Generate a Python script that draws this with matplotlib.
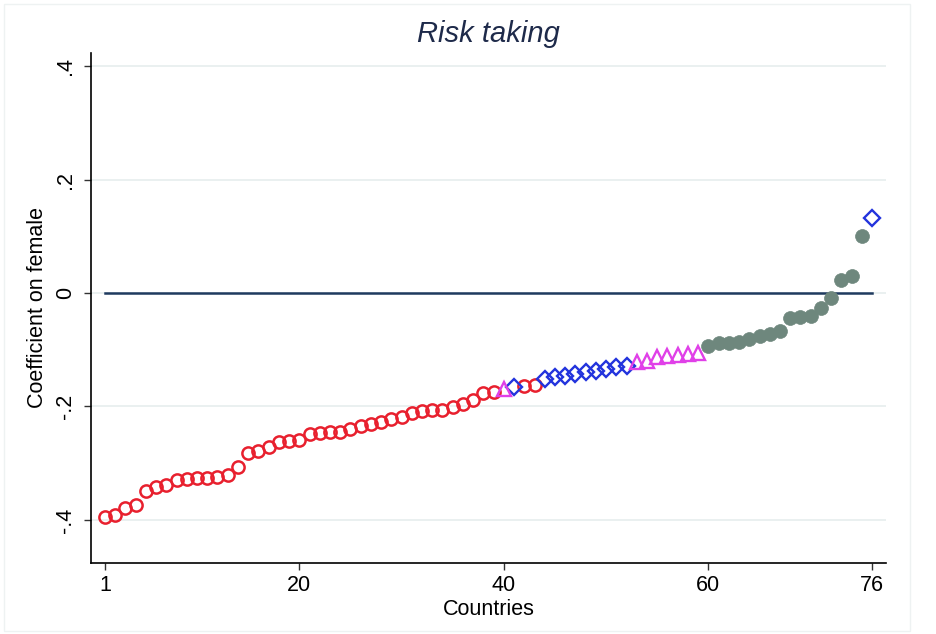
import matplotlib
matplotlib.use("Agg")
import matplotlib.pyplot as plt
import numpy as np

# coefficient on female by country (sorted), 76 countries
coef = [
    -0.395, -0.391, -0.379, -0.374, -0.349, -0.342, -0.338, -0.330, -0.328, -0.326,
    -0.326, -0.324, -0.321, -0.307, -0.282, -0.278, -0.271, -0.263, -0.261, -0.259,
    -0.248, -0.247, -0.245, -0.245, -0.240, -0.234, -0.231, -0.227, -0.222, -0.218,
    -0.211, -0.208, -0.206, -0.206, -0.201, -0.196, -0.189, -0.176, -0.174, -0.169,
    -0.166, -0.164, -0.163, -0.152, -0.148, -0.146, -0.143, -0.139, -0.137, -0.134,
    -0.130, -0.129, -0.122, -0.120, -0.113, -0.111, -0.109, -0.108, -0.106, -0.093,
    -0.088, -0.088, -0.086, -0.081, -0.076, -0.072, -0.067, -0.044, -0.042, -0.041,
    -0.026, -0.009, 0.023, 0.030, 0.100, 0.132,
]
# marker group of each country
group = (["a"] * 39 + ["c"] + ["b"] + ["a"] * 2 + ["b"] * 9 + ["c"] * 7
         + ["d"] * 16 + ["b"])

xticks = [1, 20, 40, 60, 76]
yticks = [-0.4, -0.2, 0, 0.2, 0.4]
ytick_labels = ["-.4", "-.2", "0", ".2", ".4"]

styles = {
    "a": dict(marker="o", ms=8.8, mfc="none", mec="#E8202E", mew=1.8),
    "b": dict(marker="D", ms=8.2, mfc="none", mec="#2233DD", mew=1.7),
    "c": dict(marker="^", ms=9.5, mfc="none", mec="#E040E8", mew=1.7),
    "d": dict(marker="o", ms=10, mfc="#6E877D", mec="#6E877D", mew=0.5),
}

plt.rcParams["font.family"] = ["Liberation Sans", "DejaVu Sans"]

fig = plt.figure(figsize=(9.37, 6.34), dpi=100)
ax = fig.add_axes([0.0971, 0.112, 0.8485, 0.8044])

x = np.arange(1, len(coef) + 1)
y = np.array(coef)
g = np.array(group)

ax.plot([1, 76], [0, 0], color="#1F3A5F", lw=1.8, zorder=2)
for k, st in styles.items():
    m = g == k
    ax.plot(x[m], y[m], ls="none", zorder=3, **st)

ax.set_xlim(-0.37, 77.37)
ax.set_ylim(-0.476, 0.423)
ax.set_xticks(xticks)
ax.set_yticks(yticks)
ax.set_yticklabels(ytick_labels, rotation=90, va="center")
ax.tick_params(axis="both", labelsize=15.5, length=5, width=1, color="#333333")
ax.tick_params(axis="y", pad=6)
ax.grid(axis="y", color="#E6EEEE", lw=1.2)
ax.set_axisbelow(True)
for s in ["top", "right"]:
    ax.spines[s].set_visible(False)
for s in ["left", "bottom"]:
    ax.spines[s].set_linewidth(1.2)

ax.set_xlabel("Countries", fontsize=15.5, labelpad=2)
ax.set_ylabel("Coefficient on female", fontsize=15.5, labelpad=5)
ax.set_title("Risk taking", fontsize=21, style="italic", color="#1E2A4A", pad=8)

# faint outer frame like the graph region
fig.add_artist(plt.Rectangle((0.004, 0.004), 0.967, 0.99, transform=fig.transFigure,
                             fill=False, ec="#EEF2F2", lw=1))

fig.savefig("out.png", dpi=100)
